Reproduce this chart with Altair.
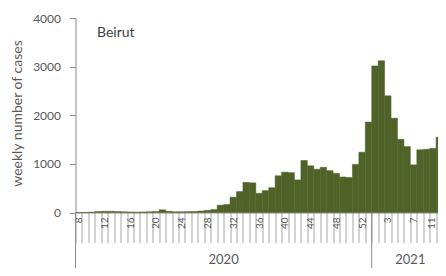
import json
import altair as alt
import pandas as pd

CITY = "Beirut"
Y_TITLE = "weekly number of cases"
YEARS = ["2020", "2021"]
y_ticks = [0, 1000, 2000, 3000, 4000]
label_every = 4

weeks_2020 = list(range(8, 54))  # ISO weeks 8..53
cases_2020 = [1, 2, 8, 20, 25, 25, 20, 15, 10, 8,
              12, 15, 20, 55, 25, 15, 15, 18, 20, 30,
              45, 60, 150, 165, 315, 430, 620, 610, 395, 450,
              510, 755, 830, 820, 670, 1070, 960, 890, 930, 860,
              805, 730, 720, 990, 1240, 1860]
weeks_2021 = list(range(1, 13))
cases_2021 = [3015, 3120, 2400, 1940, 1505, 1355, 980, 1290, 1300, 1320, 1550, 1645]

keys_2020 = [f"2020-{w:02d}" for w in weeks_2020]
keys_2021 = [f"2021-{w:02d}" for w in weeks_2021]
keys = keys_2020 + keys_2021
cases = cases_2020 + cases_2021

df = pd.DataFrame({"key": keys, "cases": cases})
shown = [k for i, k in enumerate(keys) if i % label_every == 0]
label_expr = ("indexof(" + json.dumps(shown) + ", datum.value) >= 0 ? '' + toNumber(slice(datum.value, 5)) : ''")
last_shown = shown[-1]

groups = [keys_2020, keys_2021]
sep_df = pd.DataFrame({"key": [g[0] for g in groups]})
year_df = pd.DataFrame({"year": YEARS, "key": [g[len(g) // 2] for g in groups]})
city_df = pd.DataFrame({"t": [CITY]})

FONT = "Lato"
GREY = "#595959"
AXIS = "#8c8c8c"
W, H = 362.5, 194.5

xscale = alt.Scale(domain=keys, paddingInner=0, paddingOuter=0, range=[0, 373.5])

bars = alt.Chart(df).mark_bar(color="#4F6228", stroke="#4F6228", strokeWidth=0.5).encode(
    x=alt.X("key:N", scale=xscale, sort=keys,
            axis=alt.Axis(title=None, labelExpr=label_expr, labelAngle=270,
                          labelFont=FONT, labelFontSize=10, labelColor=GREY,
                          labelOffset={"condition": {"test": f"datum.value === '{last_shown}'", "value": -8},
                                       "value": 0},
                          tickBand="extent", tickSize=30, tickColor="#a6a6a6", tickWidth=1,
                          domainColor=AXIS, labelPadding=-25.5, labelOverlap=False,
                          labelBound=False, grid=False)),
    y=alt.Y("cases:Q", scale=alt.Scale(domain=[0, 4000], nice=False),
            axis=alt.Axis(values=y_ticks, format="d", title=Y_TITLE, titleFont=FONT, titleFontSize=14,
                          titleFontWeight="normal", titleColor=GREY, titleX=-58.5, titleY=95,
                          titleAngle=270, titleAlign="center", titleBaseline="middle",
                          labelFont=FONT, labelFontSize=12, labelColor=GREY,
                          tickSize=6, tickColor=AXIS, labelPadding=9, domainColor=AXIS,
                          grid=False)),
)

seps = alt.Chart(sep_df).mark_rule(color=AXIS, strokeWidth=1).encode(
    x=alt.X("key:N", scale=xscale, sort=keys, bandPosition=0),
    y=alt.value(H),
    y2=alt.value(250),
)

years = alt.Chart(year_df).mark_text(font=FONT, fontSize=13, color=GREY, baseline="middle").encode(
    x=alt.X("key:N", scale=xscale, sort=keys, bandPosition=0),
    y=alt.value(241.5),
    text="year:N",
)

city = alt.Chart(city_df).mark_text(font=FONT, fontSize=14, color="#404040", align="left",
                                     baseline="middle").encode(
    x=alt.value(21.5),
    y=alt.value(14.5),
    text="t:N",
)

chart = alt.layer(bars, seps, years, city).properties(
    width=W, height=H,
    padding={"left": 67.5, "top": 10, "right": 0, "bottom": 55.5},
    autosize=alt.AutoSizeParams(type="none"),
).configure_view(stroke=None)

chart.save("out.html", embed_options={"renderer": "svg", "actions": False})
